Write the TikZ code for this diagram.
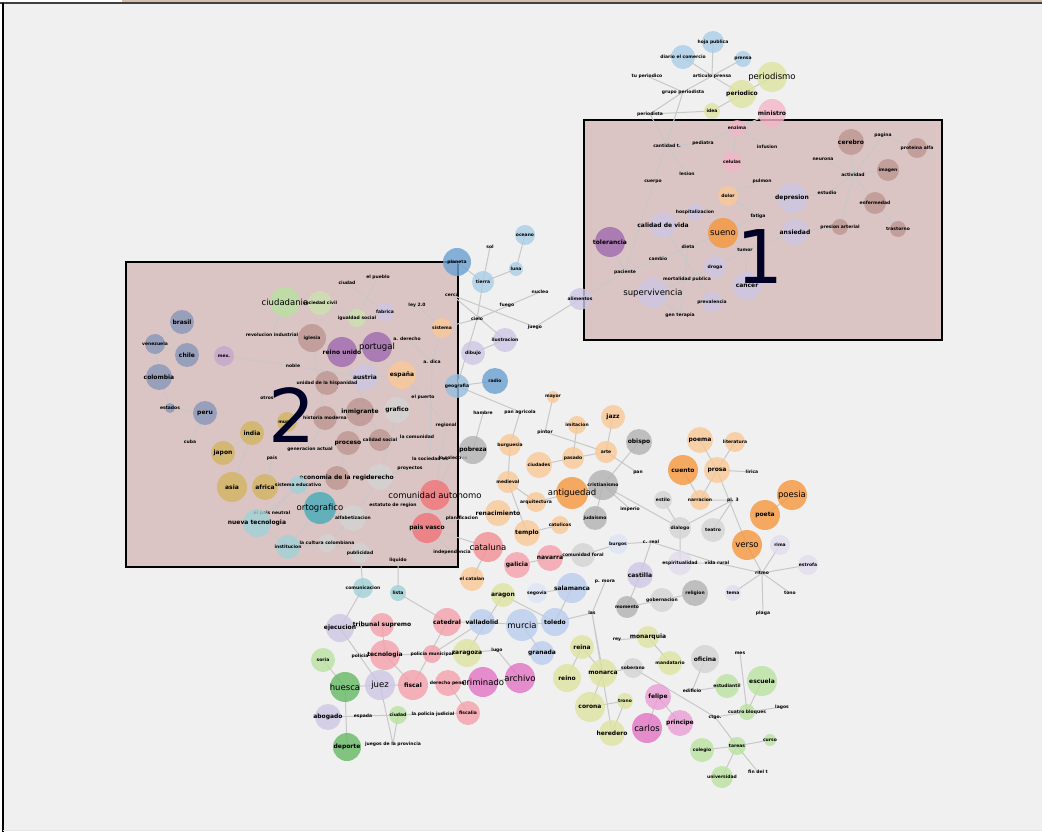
\documentclass[tikz,border=0pt]{standalone}
\usepackage{fontspec}
\setmainfont{DejaVu Sans}
\usetikzlibrary{backgrounds}

\definecolor{bg}{RGB}{240,240,240}
\definecolor{zonefill}{RGB}{219,196,196}
\definecolor{edgegray}{RGB}{200,200,200}
\definecolor{lblue}{RGB}{170,205,230}
\definecolor{mblue}{RGB}{105,160,210}
\definecolor{pblue}{RGB}{185,205,238}
\definecolor{vpblue}{RGB}{220,228,245}
\definecolor{ygreen}{RGB}{222,228,160}
\definecolor{pgreen}{RGB}{205,225,175}
\definecolor{pinkn}{RGB}{244,182,200}
\definecolor{rpink}{RGB}{245,160,170}
\definecolor{brownn}{RGB}{190,150,145}
\definecolor{lav}{RGB}{205,198,228}
\definecolor{vlav}{RGB}{225,220,238}
\definecolor{lorange}{RGB}{249,200,150}
\definecolor{orangen}{RGB}{246,150,60}
\definecolor{purplen}{RGB}{160,105,175}
\definecolor{lgreen}{RGB}{185,225,160}
\definecolor{dgreen}{RGB}{100,185,100}
\definecolor{mgray}{RGB}{178,178,178}
\definecolor{lgray}{RGB}{212,212,212}
\definecolor{tealn}{RGB}{70,172,185}
\definecolor{lteal}{RGB}{160,210,215}
\definecolor{gold}{RGB}{210,180,95}
\definecolor{slate}{RGB}{135,150,185}
\definecolor{redn}{RGB}{240,115,120}
\definecolor{magen}{RGB}{225,115,195}

\pgfdeclarelayer{zones}
\pgfdeclarelayer{links}
\pgfsetlayers{zones,links,main}

\tikzset{
  bub/.style={circle, inner sep=0pt, minimum size=#1, fill opacity=0.8},
  txt/.style={font=\fontsize{4.5}{5}\selectfont\bfseries, inner sep=0pt},
  mid/.style={font=\fontsize{6}{7}\selectfont\bfseries, inner sep=0pt},
  big/.style={font=\fontsize{8.5}{10}\selectfont, inner sep=0pt},
  edge/.style={draw=edgegray, line width=1pt},
  zone/.style={draw=black, line width=1.3pt, fill=zonefill},
  tag/.style={font=\fontsize{74}{74}\selectfont, text=black!85!blue, inner sep=0pt},
}

\begin{document}
\begin{tikzpicture}[x=1pt, y=-1pt]
    \useasboundingbox (0,0) rectangle (1042,832);

    % press
    \node[bub=22, fill=lblue, label={[txt]center:hoja publica}] (hoja) at (713,42) {};
    \node[bub=24, fill=lblue, label={[txt]center:diario el comercio}] (diario) at (683,57) {};
    \node[bub=16, fill=lblue, label={[txt]center:prensa}] (prensa) at (743,59) {};
    \node[txt] (tuper) at (647,76) {tu periodico};
    \node[txt] (artpr) at (712,76) {articulo prensa};
    \node[bub=30, fill=ygreen, label={[big]center:periodismo}] (periodismo) at (772,77) {};
    \node[bub=28, fill=ygreen, label={[mid]center:periodico}] (periodico) at (742,94) {};
    \node[txt] (grupo) at (683,92) {grupo periodista};
    \node[bub=28, fill=pinkn, label={[mid]center:ministro}] (ministro) at (772,113) {};
    \node[bub=16, fill=ygreen, label={[txt]center:idea}] (idea) at (712,111) {};
    \node[txt] (periodista) at (650,114) {periodista};

    % zone 1
    \node[bub=16, fill=pinkn, label={[txt]center:enzima}] (enzima) at (737,128) {};
    \node[txt] (pediatra) at (703,143) {pediatra};
    \node[txt] (infusion) at (767,147) {infusion};
    \node[bub=20, fill=pinkn, label={[txt]center:celulas}] (celulas) at (732,162) {};
    \node[txt] (cantidad) at (667,146) {cantidad t.};
    \node[txt] (lesion) at (687,174) {lesion};
    \node[txt] (cuerpo) at (653,182) {cuerpo};
    \node[bub=26, fill=brownn, label={[mid]center:cerebro}] (cerebro) at (851,142) {};
    \node[txt] (pagina) at (883,135) {pagina};
    \node[bub=20, fill=brownn, label={[txt]center:proteina alfa}] (proteina) at (917,148) {};
    \node[txt] (neurona) at (823,159) {neurona};
    \node[txt] (actividad) at (853,175) {actividad};
    \node[bub=22, fill=brownn, label={[txt]center:imagen}] (imagen) at (888,170) {};
    \node[txt] (estudio) at (827,193) {estudio};
    \node[bub=22, fill=brownn, label={[txt]center:enfermedad}] (enferm) at (875,203) {};
    \node[bub=16, fill=brownn, label={[txt]center:presion arterial}] (presion) at (840,227) {};
    \node[bub=16, fill=brownn, label={[txt]center:trastorno}] (trastorno) at (898,229) {};
    \node[bub=20, fill=lorange, label={[txt]center:dolor}] (dolor) at (728,196) {};
    \node[txt] (pulmon) at (762,181) {pulmon};
    \node[bub=30, fill=lav, label={[mid]center:depresion}] (depresion) at (792,198) {};
    \node[bub=26, fill=lav, label={[mid]center:ansiedad}] (ansiedad) at (795,232) {};
    \node[bub=30, fill=orangen, label={[big]center:sueno}] (sueno) at (723,233) {};
    \node[txt] (fatiga) at (758,216) {fatiga};
    \node[bub=16, fill=lav, label={[txt]center:hospitalizacion}] (hospital) at (695,212) {};
    \node[bub=26, fill=lav, label={[mid]center:calidad de vida}] (calidad) at (663,225) {};
    \node[bub=30, fill=purplen, label={[mid]center:tolerancia}] (tolerancia) at (610,242) {};
    \node[txt] (dieta) at (688,247) {dieta};
    \node[txt] (cambio) at (658,259) {cambio};
    \node[txt] (paciente) at (625,272) {paciente};
    \node[bub=22, fill=lav, label={[txt]center:droga}] (droga) at (715,267) {};
    \node[txt] (tumor) at (745,250) {tumor};
    \node[bub=28, fill=lav, label={[mid]center:cancer}] (cancer) at (747,286) {};
    \node[txt] (mortal) at (687,279) {mortalidad publica};
    \node[bub=30, fill=lav, label={[big]center:supervivencia}] (superv) at (653,293) {};
    \node[bub=20, fill=lav, label={[txt]center:prevalencia}] (preval) at (712,302) {};
    \node[txt] (genter) at (680,315) {gen terapia};
    \node[bub=22, fill=lav, label={[txt]center:alimentos}] (alimentos) at (580,299) {};

    % middle
    \node[bub=28, fill=mblue, label={[txt]center:planeta}] (planeta) at (457,262) {};
    \node[txt] (sol) at (490,247) {sol};
    \node[bub=20, fill=lblue, label={[txt]center:oceano}] (oceano) at (525,235) {};
    \node[bub=14, fill=lblue, label={[txt]center:luna}] (luna) at (516,269) {};
    \node[bub=22, fill=lblue, label={[txt]center:tierra}] (tierra) at (483,282) {};
    \node[txt] (cerca) at (452,295) {cerca};
    \node[txt] (nucleo) at (540,292) {nucleo};
    \node[txt] (fuego) at (507,305) {fuego};
    \node[txt] (cielo) at (477,319) {cielo};
    \node[txt] (juego) at (535,327) {juego};
    \node[bub=24, fill=lav, label={[txt]center:ilustracion}] (ilustr) at (505,340) {};
    \node[bub=24, fill=lav, label={[txt]center:dibujo}] (dibujo) at (473,353) {};
    \node[bub=26, fill=mblue, label={[txt]center:radio}] (radio) at (495,381) {};
    \node[bub=24, fill=mblue!70, label={[txt]center:geografia}] (geografia) at (457,386) {};
    \node[bub=20, fill=lorange, label={[txt]center:sistema}] (sistema) at (442,328) {};
    \node[bub=12, fill=lorange, label={[txt]center:mayor}] (mayor) at (553,397) {};
    \node[txt] (hambre) at (483,413) {hambre};
    \node[txt] (panagr) at (520,412) {pan agricola};

    % zone 2
    \node[bub=30, fill=lgreen, label={[big]center:ciudadania}] (ciudadania) at (285,302) {};
    \node[bub=24, fill=pgreen, label={[txt]center:sociedad civil}] (sociedad) at (320,303) {};
    \node[bub=18, fill=pgreen, label={[txt]center:igualdad social}] (igualdad) at (357,318) {};
    \node[txt] (ciudad) at (347,283) {ciudad};
    \node[txt] (pueblo) at (378,277) {el pueblo};
    \node[bub=18, fill=lav, label={[txt]center:fabrica}] (fabrica) at (385,312) {};
    \node[txt] (ley) at (417,305) {ley 2.0};
    \node[txt] (adrchi) at (407,339) {a. derecho};
    \node[txt] (adica) at (432,362) {a. dica};
    \node[bub=28, fill=brownn, label={[txt]center:iglesia}] (iglesia) at (312,338) {};
    \node[txt] (revol) at (272,335) {revolucion industrial};
    \node[bub=30, fill=purplen, label={[mid]center:reino unido}] (reinoun) at (342,352) {};
    \node[bub=30, fill=purplen, label={[big]center:portugal}] (portugal) at (377,347) {};
    \node[bub=20, fill=purplen!60, label={[txt]center:mex.}] (mex) at (224,356) {};
    \node[bub=24, fill=slate, label={[mid]center:brasil}] (brasil) at (182,322) {};
    \node[bub=20, fill=slate, label={[txt]center:venezuela}] (venez) at (155,344) {};
    \node[bub=24, fill=slate, label={[mid]center:chile}] (chile) at (187,355) {};
    \node[bub=26, fill=slate, label={[mid]center:colombia}] (colombia) at (159,377) {};
    \node[txt] (noble) at (293,366) {noble};
    \node[bub=26, fill=lav, label={[mid]center:austria}] (austria) at (365,377) {};
    \node[bub=28, fill=lorange, label={[mid]center:españa}] (espana) at (402,375) {};
    \node[bub=24, fill=brownn, label={[txt]center:unidad de la hispanidad}] (unidad) at (327,383) {};
    \node[txt] (otros) at (267,398) {otros};
    \node[bub=24, fill=slate, label={[mid]center:peru}] (peru) at (205,413) {};
    \node[bub=10, fill=slate, label={[txt]center:estados}] (estados) at (170,408) {};
    \node[txt] (cuba) at (190,442) {cuba};
    \node[bub=24, fill=gold, label={[mid]center:india}] (india) at (252,433) {};
    \node[bub=24, fill=gold, label={[mid]center:japon}] (japon) at (223,453) {};
    \node[bub=30, fill=gold, label={[mid]center:asia}] (asia) at (232,487) {};
    \node[bub=26, fill=gold, label={[mid]center:africa}] (africa) at (265,487) {};
    \node[bub=20, fill=gold, label={[txt]center:mundo}] (mundo) at (287,422) {};
    \node[bub=28, fill=brownn, label={[mid]center:inmigrante}] (inmigr) at (360,412) {};
    \node[bub=26, fill=lgray, label={[mid]center:grafico}] (grafico) at (397,410) {};
    \node[bub=24, fill=brownn, label={[txt]center:historia moderna}] (histmod) at (325,418) {};
    \node[bub=24, fill=brownn, label={[mid]center:proceso}] (proceso) at (348,443) {};
    \node[bub=22, fill=brownn, label={[txt]center:calidad social}] (calsoc) at (380,440) {};
    \node[txt] (comunidad) at (417,437) {la comunidad};
    \node[txt] (gener) at (310,449) {generacion actual};
    \node[txt] (pais) at (272,458) {pais};
    \node[txt] (socies) at (430,459) {la sociedad es};
    \node[bub=24, fill=brownn, label={[mid]center:economia de la region}] (econ) at (337,478) {};
    \node[bub=26, fill=lgray, label={[mid]center:derecho}] (derecho) at (380,477) {};
    \node[txt] (proy) at (410,468) {proyectos};
    \node[bub=18, fill=lteal, label={[txt]center:sistema educativo}] (sisted) at (298,485) {};
    \node[bub=32, fill=tealn, label={[big]center:ortografico}] (ortog) at (320,508) {};
    \node[txt] (neutral) at (272,513) {el pais neutral};
    \node[bub=26, fill=lgray, label={[txt]center:alfabetizacion}] (alfab) at (353,518) {};
    \node[bub=28, fill=lteal, label={[mid]center:nueva tecnologia}] (nuevatec) at (257,523) {};
    \node[bub=24, fill=lteal, label={[txt]center:institucion}] (instit) at (288,547) {};
    \node[bub=18, fill=lgray, label={[txt]center:la cultura colombiana}] (cultura) at (327,543) {};
    \node[bub=20, fill=lgray, label={[txt]center:publicidad}] (public) at (360,553) {};
    \node[bub=30, fill=redn, label={[big]center:comunidad autonomo}] (comaut) at (435,495) {};
    \node[txt] (estatuto) at (393,505) {estatuto de region};
    \node[bub=30, fill=redn, label={[mid]center:pais vasco}] (paisvasco) at (427,528) {};
    \node[txt] (planif) at (462,518) {planificacion};
    \node[txt] (indep) at (452,552) {independencia};
    \node[txt] (regional) at (446,425) {regional};
    \node[txt] (colect) at (453,458) {lo colectivo};
    \node[txt] (puerto) at (423,397) {el puerto};
    \node[txt] (liquido) at (398,560) {liquido};

    % history and letters
    \node[bub=28, fill=mgray, label={[mid]center:pobreza}] (pobreza) at (473,450) {};
    \node[txt] (pintor) at (545,432) {pintor};
    \node[bub=22, fill=lorange, label={[txt]center:burguesia}] (burgues) at (510,445) {};
    \node[bub=18, fill=lorange, label={[txt]center:imitacion}] (imitac) at (577,425) {};
    \node[bub=26, fill=lorange, label={[txt]center:ciudades}] (ciudades) at (539,465) {};
    \node[bub=22, fill=lorange, label={[txt]center:pasado}] (pasado) at (573,458) {};
    \node[bub=24, fill=lorange, label={[mid]center:jazz}] (jazz) at (613,417) {};
    \node[bub=22, fill=lorange, label={[txt]center:arte}] (arte) at (606,452) {};
    \node[bub=26, fill=mgray, label={[mid]center:obispo}] (obispo) at (639,442) {};
    \node[txt] (pan) at (638,473) {pan};
    \node[bub=30, fill=mgray, label={[txt]center:cristianismo}] (cristian) at (603,485) {};
    \node[bub=32, fill=orangen, label={[big]center:antiguedad}] (antig) at (572,493) {};
    \node[bub=22, fill=lorange, label={[txt]center:medieval}] (medieval) at (508,482) {};
    \node[bub=20, fill=lorange, label={[txt]center:arquitectura}] (arquit) at (536,502) {};
    \node[bub=26, fill=lorange, label={[mid]center:renacimiento}] (renac) at (498,513) {};
    \node[bub=26, fill=lorange, label={[mid]center:templo}] (templo) at (527,533) {};
    \node[bub=18, fill=lorange, label={[txt]center:catolicos}] (catol) at (560,525) {};
    \node[txt] (imperio) at (630,509) {imperio};
    \node[bub=24, fill=mgray, label={[txt]center:judaismo}] (judaismo) at (595,518) {};
    \node[bub=30, fill=redn!80, label={[big]center:cataluna}] (cataluna) at (488,547) {};
    \node[bub=26, fill=rpink, label={[mid]center:galicia}] (galicia) at (517,565) {};
    \node[bub=26, fill=rpink, label={[mid]center:navarra}] (navarra) at (550,558) {};
    \node[bub=24, fill=lgray, label={[txt]center:comunidad foral}] (foral) at (583,555) {};
    \node[bub=20, fill=vpblue, label={[txt]center:burgos}] (burgos) at (618,544) {};
    \node[txt] (creal) at (651,542) {c. real};
    \node[bub=26, fill=lav, label={[mid]center:castilla}] (castilla) at (640,575) {};
    \node[txt] (pmora) at (605,582) {p. mora};
    \node[bub=30, fill=pblue, label={[mid]center:salamanca}] (salamanca) at (572,588) {};
    \node[bub=20, fill=vpblue, label={[txt]center:segovia}] (segovia) at (537,593) {};
    \node[bub=24, fill=ygreen, label={[mid]center:aragon}] (aragon) at (503,595) {};
    \node[bub=24, fill=lorange, label={[txt]center:el catalan}] (catalan) at (472,579) {};
    \node[bub=26, fill=lorange, label={[mid]center:poema}] (poema) at (700,440) {};
    \node[bub=20, fill=lorange, label={[txt]center:literatura}] (literat) at (735,442) {};
    \node[bub=30, fill=orangen, label={[mid]center:cuento}] (cuento) at (683,470) {};
    \node[bub=26, fill=lorange, label={[mid]center:prosa}] (prosa) at (717,470) {};
    \node[txt] (lirica) at (752,472) {lirica};
    \node[bub=20, fill=lorange, label={[txt]center:narracion}] (narrac) at (700,500) {};
    \node[txt] (plt) at (733,500) {pl. 3};
    \node[bub=30, fill=orangen, label={[big]center:poesia}] (poesia) at (792,495) {};
    \node[bub=30, fill=orangen, label={[mid]center:poeta}] (poeta) at (765,515) {};
    \node[bub=30, fill=orangen, label={[big]center:verso}] (verso) at (747,545) {};
    \node[bub=18, fill=lgray, label={[txt]center:estilo}] (estilo) at (663,500) {};
    \node[bub=22, fill=lgray, label={[txt]center:dialogo}] (dialogo) at (680,528) {};
    \node[bub=24, fill=lgray, label={[txt]center:teatro}] (teatro) at (713,530) {};
    \node[bub=20, fill=vlav, label={[txt]center:rima}] (rima) at (780,545) {};
    \node[bub=20, fill=vlav, label={[txt]center:estrofa}] (estrofa) at (808,565) {};
    \node[txt] (ritmo) at (762,573) {ritmo};
    \node[bub=24, fill=vlav, label={[txt]center:espiritualidad}] (espirit) at (680,563) {};
    \node[txt] (vidarur) at (717,563) {vida rural};
    \node[bub=26, fill=mgray, label={[txt]center:religion}] (religion) at (695,593) {};
    \node[bub=16, fill=vlav, label={[txt]center:tema}] (tema) at (733,593) {};
    \node[txt] (tono) at (790,593) {tono};
    \node[txt] (plaga) at (763,613) {plaga};
    \node[bub=24, fill=lgray, label={[txt]center:gobernacion}] (gobern) at (662,600) {};
    \node[bub=22, fill=mgray, label={[txt]center:momento}] (momento) at (627,607) {};

    % law and places
    \node[bub=20, fill=lteal, label={[txt]center:comunicacion}] (comunic) at (363,588) {};
    \node[bub=16, fill=lteal, label={[txt]center:lista}] (lista) at (398,593) {};
    \node[bub=28, fill=lav, label={[mid]center:ejecucion}] (ejec) at (340,628) {};
    \node[bub=24, fill=rpink, label={[mid]center:tribunal supremo}] (tribunal) at (382,625) {};
    \node[bub=28, fill=rpink, label={[mid]center:catedral}] (catedral) at (447,622) {};
    \node[bub=26, fill=pblue, label={[mid]center:valladolid}] (valla) at (482,622) {};
    \node[bub=32, fill=pblue, label={[big]center:murcia}] (murcia) at (522,625) {};
    \node[bub=28, fill=pblue, label={[mid]center:toledo}] (toledo) at (555,622) {};
    \node[bub=24, fill=pblue, label={[mid]center:granada}] (granada) at (542,653) {};
    \node[bub=28, fill=ygreen, label={[mid]center:zaragoza}] (zaragoza) at (467,653) {};
    \node[txt] (lugo) at (497,650) {lugo};
    \node[bub=30, fill=rpink, label={[mid]center:tecnologia}] (tecnol) at (385,655) {};
    \node[bub=18, fill=rpink, label={[txt]center:policia municipal}] (comisar) at (432,654) {};
    \node[txt] (policia) at (360,656) {policia};
    \node[bub=30, fill=lav, label={[big]center:juez}] (juez) at (380,685) {};
    \node[bub=30, fill=dgreen, label={[big]center:huesca}] (huesca) at (345,687) {};
    \node[bub=24, fill=lgreen, label={[txt]center:soria}] (soria) at (323,660) {};
    \node[bub=30, fill=rpink, label={[mid]center:fiscal}] (fiscal) at (413,685) {};
    \node[bub=26, fill=rpink, label={[txt]center:derecho penal}] (penal) at (448,683) {};
    \node[bub=30, fill=magen, label={[big]center:criminado}] (criminado) at (483,682) {};
    \node[bub=30, fill=magen, label={[big]center:archivo}] (archivo) at (520,678) {};
    \node[bub=26, fill=lav, label={[mid]center:abogado}] (abogado) at (328,717) {};
    \node[txt] (espada) at (363,716) {espada};
    \node[bub=18, fill=lgreen, label={[txt]center:ciudad}] (ciudadj) at (398,715) {};
    \node[txt] (polj) at (433,714) {la policia judicial};
    \node[bub=24, fill=rpink, label={[txt]center:fiscalia}] (fiscalia) at (468,713) {};
    \node[bub=28, fill=dgreen, label={[mid]center:deporte}] (deporte) at (347,747) {};
    \node[txt] (juegos) at (393,744) {juegos de la provincia};

    % crown and school
    \node[txt] (las) at (592,613) {las};
    \node[bub=22, fill=ygreen, label={[mid]center:monarquia}] (monarquia) at (648,637) {};
    \node[txt] (rey) at (617,640) {rey};
    \node[bub=24, fill=ygreen, label={[mid]center:reina}] (reina) at (582,647) {};
    \node[bub=28, fill=ygreen, label={[mid]center:reino}] (reinoes) at (567,678) {};
    \node[bub=28, fill=ygreen, label={[mid]center:monarca}] (monarca) at (603,673) {};
    \node[bub=30, fill=ygreen, label={[mid]center:corona}] (corona) at (590,707) {};
    \node[bub=16, fill=ygreen, label={[txt]center:trono}] (trono) at (625,701) {};
    \node[bub=26, fill=ygreen, label={[mid]center:heredero}] (heredero) at (612,733) {};
    \node[bub=30, fill=magen, label={[big]center:carlos}] (carlos) at (647,728) {};
    \node[bub=26, fill=magen!70, label={[mid]center:felipe}] (felipe) at (658,697) {};
    \node[bub=26, fill=magen!70, label={[mid]center:principe}] (principe) at (680,723) {};
    \node[bub=20, fill=lgray, label={[txt]center:soberano}] (soberano) at (633,668) {};
    \node[bub=24, fill=ygreen, label={[txt]center:mandatario}] (mandat) at (670,663) {};
    \node[bub=28, fill=lgray, label={[mid]center:oficina}] (oficina) at (705,659) {};
    \node[txt] (mes) at (740,653) {mes};
    \node[bub=24, fill=lgreen, label={[txt]center:estudiantil}] (estudiantil) at (727,686) {};
    \node[bub=30, fill=lgreen, label={[mid]center:escuela}] (escuela) at (762,681) {};
    \node[txt] (edificio) at (692,691) {edificio};
    \node[txt] (ctgo) at (715,717) {ctgo.};
    \node[bub=16, fill=lgreen, label={[txt]center:cuatro bloques}] (bloques) at (747,712) {};
    \node[txt] (lagos) at (782,707) {lagos};
    \node[bub=24, fill=lgreen, label={[txt]center:colegio}] (colegio) at (702,750) {};
    \node[bub=18, fill=lgreen, label={[txt]center:tareas}] (tareas) at (737,746) {};
    \node[bub=12, fill=lgreen, label={[txt]center:curso}] (curso) at (770,740) {};
    \node[txt] (fin) at (758,772) {fin del t};
    \node[bub=22, fill=lgreen, label={[txt]center:universidad}] (univ) at (722,777) {};

    \begin{pgfonlayer}{zones}
      % frame of the window
      \fill[bg] (3,3) rectangle (1042,830);
      \fill[black!25!brown!40] (122,0) rectangle (1042,2);
      \draw[black!75, line width=1.5pt] (0,3) -- (1042,3);
      \draw[black, line width=1.5pt] (3,3) -- (3,832);
      \draw[black!10, line width=1pt] (3,830.5) -- (1042,830.5);
      \draw[zone] (584,120) rectangle (942,340);
      \draw[zone] (126,262) rectangle (458,567);
    \end{pgfonlayer}

    \begin{pgfonlayer}{links}
      \draw[edge] (hoja.center) -- (artpr.center) (diario.center) -- (artpr.center) (prensa.center) -- (artpr.center);
      \draw[edge] (tuper.center) -- (grupo.center) (grupo.center) -- (artpr.center) (artpr.center) -- (periodico.center);
      \draw[edge] (periodico.center) -- (periodismo.center) (periodico.center) -- (idea.center) (idea.center) -- (periodista.center);
      \draw[edge] (grupo.center) -- (periodista.center) (ministro.center) -- (enzima.center) (grupo.center) -- (paciente.center);
      \draw[edge] (paciente.center) -- (alimentos.center) (paciente.center) -- (tolerancia.center) (paciente.center) -- (cambio.center);
      \draw[edge] (enzima.center) -- (pediatra.center) (enzima.center) -- (infusion.center) (enzima.center) -- (celulas.center);
      \draw[edge] (pediatra.center) -- (cantidad.center) (cantidad.center) -- (periodista.center) (cantidad.center) -- (lesion.center);
      \draw[edge] (cerebro.center) -- (actividad.center) (pagina.center) -- (actividad.center) (pagina.center) -- (proteina.center);
      \draw[edge] (neurona.center) -- (actividad.center) (imagen.center) -- (actividad.center) (actividad.center) -- (estudio.center);
      \draw[edge] (actividad.center) -- (enferm.center) (enferm.center) -- (trastorno.center) (actividad.center) -- (presion.center);
      \draw[edge] (depresion.center) -- (estudio.center) (ansiedad.center) -- (presion.center) (dolor.center) -- (pulmon.center);
      \draw[edge] (dolor.center) -- (fatiga.center) (fatiga.center) -- (sueno.center) (sueno.center) -- (dieta.center);
      \draw[edge] (dieta.center) -- (cambio.center) (dieta.center) -- (genter.center) (calidad.center) -- (preval.center);
      \draw[edge] (ansiedad.center) -- (tumor.center) (tumor.center) -- (cancer.center) (tumor.center) -- (droga.center);
      \draw[edge] (droga.center) -- (mortal.center) (mortal.center) -- (superv.center) (superv.center) -- (genter.center);
      \draw[edge] (planeta.center) -- (tierra.center) (tierra.center) -- (sol.center) (tierra.center) -- (luna.center);
      \draw[edge] (luna.center) -- (oceano.center) (tierra.center) -- (cielo.center) (cielo.center) -- (geografia.center);
      \draw[edge] (cerca.center) -- (juego.center) (juego.center) -- (alimentos.center) (cielo.center) -- (nucleo.center);
      \draw[edge] (cielo.center) -- (sistema.center) (cerca.center) -- (ilustr.center) (dibujo.center) -- (ilustr.center);
      \draw[edge] (geografia.center) -- (radio.center) (geografia.center) -- (panagr.center) (mayor.center) -- (pintor.center);
      \draw[edge] (ciudadania.center) -- (revol.center) (sociedad.center) -- (igualdad.center) (ciudad.center) -- (fabrica.center);
      \draw[edge] (pueblo.center) -- (igualdad.center) (ley.center) -- (sistema.center) (sistema.center) -- (adica.center);
      \draw[edge] (adrchi.center) -- (adica.center) (adica.center) -- (socies.center) (iglesia.center) -- (revol.center);
      \draw[edge] (iglesia.center) -- (reinoun.center) (iglesia.center) -- (histmod.center) (mex.center) -- (noble.center);
      \draw[edge] (noble.center) -- (austria.center) (brasil.center) -- (venez.center) (venez.center) -- (chile.center);
      \draw[edge] (venez.center) -- (colombia.center) (colombia.center) -- (estados.center) (estados.center) -- (peru.center);
      \draw[edge] (peru.center) -- (cuba.center) (india.center) -- (asia.center) (india.center) -- (japon.center);
      \draw[edge] (africa.center) -- (pais.center) (portugal.center) -- (reinoun.center) (portugal.center) -- (austria.center);
      \draw[edge] (austria.center) -- (espana.center) (austria.center) -- (unidad.center) (austria.center) -- (inmigr.center);
      \draw[edge] (reinoun.center) -- (calsoc.center) (inmigr.center) -- (proceso.center) (grafico.center) -- (derecho.center);
      \draw[edge] (derecho.center) -- (econ.center) (econ.center) -- (proceso.center) (proceso.center) -- (gener.center);
      \draw[edge] (histmod.center) -- (gener.center) (ortog.center) -- (sisted.center) (sisted.center) -- (neutral.center);
      \draw[edge] (sisted.center) -- (africa.center) (ortog.center) -- (alfab.center) (alfab.center) -- (derecho.center);
      \draw[edge] (alfab.center) -- (cultura.center) (nuevatec.center) -- (sisted.center) (nuevatec.center) -- (instit.center);
      \draw[edge] (instit.center) -- (cultura.center) (cultura.center) -- (public.center) (comaut.center) -- (estatuto.center);
      \draw[edge] (comaut.center) -- (paisvasco.center) (paisvasco.center) -- (planif.center) (comaut.center) -- (regional.center);
      \draw[edge] (regional.center) -- (puerto.center) (espana.center) -- (puerto.center) (comunidad.center) -- (calsoc.center);
      \draw[edge] (proy.center) -- (derecho.center) (colect.center) -- (comaut.center) (paisvasco.center) -- (indep.center);
      \draw[edge] (public.center) -- (comunic.center) (liquido.center) -- (lista.center) (ortog.center) -- (instit.center);
      \draw[edge] (pobreza.center) -- (hambre.center) (panagr.center) -- (burgues.center) (burgues.center) -- (medieval.center);
      \draw[edge] (pintor.center) -- (arte.center) (imitac.center) -- (pasado.center) (pasado.center) -- (arte.center);
      \draw[edge] (arte.center) -- (jazz.center) (arte.center) -- (pan.center) (obispo.center) -- (cristian.center);
      \draw[edge] (cristian.center) -- (antig.center) (cristian.center) -- (judaismo.center) (cristian.center) -- (imperio.center);
      \draw[edge] (cristian.center) -- (dialogo.center) (antig.center) -- (arquit.center) (arquit.center) -- (medieval.center);
      \draw[edge] (templo.center) -- (catol.center) (templo.center) -- (medieval.center) (ciudades.center) -- (pasado.center);
      \draw[edge] (catalan.center) -- (cataluna.center) (cataluna.center) -- (paisvasco.center) (galicia.center) -- (navarra.center);
      \draw[edge] (navarra.center) -- (foral.center) (foral.center) -- (burgos.center) (burgos.center) -- (creal.center);
      \draw[edge] (creal.center) -- (vidarur.center) (castilla.center) -- (creal.center) (castilla.center) -- (momento.center);
      \draw[edge] (salamanca.center) -- (segovia.center) (salamanca.center) -- (toledo.center) (aragon.center) -- (toledo.center);
      \draw[edge] (poema.center) -- (prosa.center) (literat.center) -- (prosa.center) (cuento.center) -- (narrac.center);
      \draw[edge] (prosa.center) -- (narrac.center) (prosa.center) -- (lirica.center) (prosa.center) -- (verso.center);
      \draw[edge] (plt.center) -- (dialogo.center) (plt.center) -- (teatro.center) (narrac.center) -- (plt.center);
      \draw[edge] (estilo.center) -- (dialogo.center) (dialogo.center) -- (espirit.center) (poeta.center) -- (poesia.center);
      \draw[edge] (verso.center) -- (ritmo.center) (rima.center) -- (ritmo.center) (estrofa.center) -- (ritmo.center);
      \draw[edge] (ritmo.center) -- (tono.center) (ritmo.center) -- (plaga.center) (ritmo.center) -- (tema.center);
      \draw[edge] (ritmo.center) -- (vidarur.center) (vidarur.center) -- (espirit.center) (religion.center) -- (gobern.center);
      \draw[edge] (gobern.center) -- (momento.center) (pmora.center) -- (las.center) (toledo.center) -- (las.center);
      \draw[edge] (comunic.center) -- (ejec.center) (ejec.center) -- (tribunal.center) (tribunal.center) -- (tecnol.center);
      \draw[edge] (tecnol.center) -- (policia.center) (tecnol.center) -- (comisar.center) (tecnol.center) -- (fiscal.center);
      \draw[edge] (catedral.center) -- (fiscal.center) (catedral.center) -- (valla.center) (valla.center) -- (murcia.center);
      \draw[edge] (murcia.center) -- (toledo.center) (murcia.center) -- (granada.center) (zaragoza.center) -- (lugo.center);
      \draw[edge] (zaragoza.center) -- (aragon.center) (lugo.center) -- (archivo.center) (penal.center) -- (criminado.center);
      \draw[edge] (criminado.center) -- (archivo.center) (huesca.center) -- (soria.center) (huesca.center) -- (juez.center);
      \draw[edge] (juez.center) -- (fiscal.center) (juez.center) -- (ejec.center) (juez.center) -- (juegos.center);
      \draw[edge] (ciudadj.center) -- (espada.center) (espada.center) -- (abogado.center) (ciudadj.center) -- (polj.center);
      \draw[edge] (polj.center) -- (fiscalia.center) (penal.center) -- (fiscalia.center) (deporte.center) -- (huesca.center);
      \draw[edge] (ciudadj.center) -- (juegos.center) (lista.center) -- (catedral.center) (comisar.center) -- (valla.center);
      \draw[edge] (las.center) -- (monarca.center) (las.center) -- (heredero.center) (reina.center) -- (reinoes.center);
      \draw[edge] (reina.center) -- (monarca.center) (monarca.center) -- (corona.center) (monarca.center) -- (soberano.center);
      \draw[edge] (rey.center) -- (monarquia.center) (soberano.center) -- (ctgo.center) (trono.center) -- (corona.center);
      \draw[edge] (trono.center) -- (heredero.center) (felipe.center) -- (carlos.center) (principe.center) -- (felipe.center);
      \draw[edge] (monarquia.center) -- (mandat.center) (oficina.center) -- (edificio.center) (edificio.center) -- (estudiantil.center);
      \draw[edge] (mes.center) -- (bloques.center) (escuela.center) -- (bloques.center) (bloques.center) -- (ctgo.center);
      \draw[edge] (bloques.center) -- (lagos.center) (ctgo.center) -- (tareas.center) (tareas.center) -- (colegio.center);
      \draw[edge] (tareas.center) -- (curso.center) (tareas.center) -- (fin.center) (tareas.center) -- (univ.center);
    \end{pgfonlayer}

    \node[tag] (uno) at (760,257) {1};
    \node[tag] (dos) at (292,415) {2};
\end{tikzpicture}
\end{document}
